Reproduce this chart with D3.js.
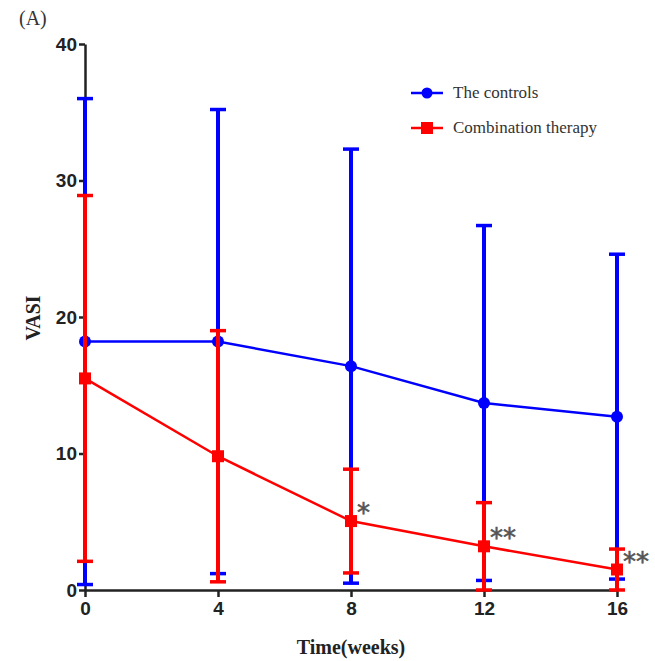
<!DOCTYPE html>
<html>
<head>
<meta charset="utf-8">
<script src="https://cdn.jsdelivr.net/npm/d3@7"></script>
<style>
  body { margin: 0; background: #fff; }
</style>
</head>
<body>
<div id="canvas"></div>
<script>
// Data
var weeks = [0, 4, 8, 12, 16];
var controlsMean = [18.2, 18.2, 16.4, 13.7, 12.7];
var controlsSD = [17.8, 17.0, 15.9, 13.0, 11.9];
var comboMean = [15.5, 9.8, 5.05, 3.2, 1.5];
var comboSD = [13.4, 9.2, 3.8, 3.2, 1.5];
var yTicks = [0, 10, 20, 30, 40];
var stars = ["", "", "*", "**", "**"];
var seriesNames = ["The controls", "Combination therapy"];

var w = 655, h = 661;

var svg = d3.select("#canvas")
    .append("svg")
    .attr("width", w)
    .attr("height", h);

var x_scale = d3.scaleLinear().domain([0, 16]).range([85, 617]);
var y_scale = d3.scaleLinear().domain([0, 40]).range([590, 44]);

// panel label
svg.append("text")
    .attr("x", 19).attr("y", 25)
    .style("font-family", "Liberation Serif, serif")
    .style("font-size", "20px")
    .style("fill", "#333")
    .text("(A)");

// axes (drawn first so the error bars sit on top)
var xAxis = svg.append("g")
    .attr("transform", "translate(0,590)")
    .call(d3.axisBottom(x_scale).tickValues(weeks).tickSize(7).tickSizeOuter(0));
var yAxis = svg.append("g")
    .attr("transform", "translate(85,0)")
    .call(d3.axisLeft(y_scale).tickValues(yTicks).tickSize(6).tickSizeOuter(0));

[xAxis, yAxis].forEach(a => {
    a.select(".domain").attr("stroke", "#222").attr("stroke-width", 2.5);
    a.selectAll(".tick line").attr("stroke", "#222").attr("stroke-width", 2.5);
    a.selectAll(".tick text")
        .style("font-family", "Liberation Sans, Arial, sans-serif")
        .style("font-weight", "bold")
        .style("font-size", "19px")
        .style("fill", "#222");
});
xAxis.selectAll(".tick text").attr("dy", "0.71em").attr("y", 12);
yAxis.selectAll(".tick text").attr("x", -8);

function drawSeries(means, sds, color, marker) {
    var g = svg.append("g");
    var rows = weeks.map((wk, i) => ({
        wk: wk,
        m: means[i],
        hi: means[i] + sds[i],
        lo: Math.max(0, means[i] - sds[i])
    }));

    // error bars
    g.selectAll(".bar").data(rows).join("line")
        .attr("x1", d => x_scale(d.wk)).attr("x2", d => x_scale(d.wk))
        .attr("y1", d => y_scale(d.hi)).attr("y2", d => y_scale(d.lo))
        .attr("stroke", color).attr("stroke-width", 4);
    ["hi", "lo"].forEach(k => {
        g.selectAll(".cap-" + k).data(rows).join("line")
            .attr("x1", d => x_scale(d.wk) - 8).attr("x2", d => x_scale(d.wk) + 8)
            .attr("y1", d => y_scale(d[k])).attr("y2", d => y_scale(d[k]))
            .attr("stroke", color).attr("stroke-width", 3.5);
    });

    // mean line
    g.append("path")
        .datum(rows)
        .attr("fill", "none")
        .attr("stroke", color)
        .attr("stroke-width", 2.5)
        .attr("d", d3.line().x(d => x_scale(d.wk)).y(d => y_scale(d.m)));

    // markers
    if (marker === "circle") {
        g.selectAll("circle").data(rows).join("circle")
            .attr("cx", d => x_scale(d.wk)).attr("cy", d => y_scale(d.m))
            .attr("r", 6).attr("fill", color);
    } else {
        g.selectAll("rect.mk").data(rows).join("rect")
            .attr("x", d => x_scale(d.wk) - 6).attr("y", d => y_scale(d.m) - 6)
            .attr("width", 12).attr("height", 12).attr("fill", color);
    }
    return rows;
}

drawSeries(controlsMean, controlsSD, "#0000ff", "circle");
var comboRows = drawSeries(comboMean, comboSD, "#ff0000", "square");

// significance marks
svg.selectAll(".star").data(comboRows).join("text")
    .attr("x", d => x_scale(d.wk) + 6)
    .attr("y", d => y_scale(d.m) + 1)
    .style("font-family", "DejaVu Sans, sans-serif")
    .style("font-size", "26px")
    .style("fill", "#555")
    .style("stroke", "#555")
    .style("stroke-width", 0.6)
    .text((d, i) => stars[i]);

// axis titles
svg.append("text")
    .attr("x", 351).attr("y", 654)
    .attr("text-anchor", "middle")
    .style("font-family", "Liberation Serif, serif")
    .style("font-weight", "bold")
    .style("font-size", "20px")
    .style("fill", "#222")
    .text("Time(weeks)");

svg.append("text")
    .attr("transform", "translate(40,318) rotate(-90)")
    .attr("text-anchor", "middle")
    .style("font-family", "Liberation Serif, serif")
    .style("font-weight", "bold")
    .style("font-size", "20px")
    .style("fill", "#222")
    .text("VASI");

// legend
var legend = svg.append("g").attr("transform", "translate(411,93)");
seriesNames.forEach((name, i) => {
    var color = i === 0 ? "#0000ff" : "#ff0000";
    var row = legend.append("g").attr("transform", `translate(0,${i * 35})`);
    row.append("line").attr("x1", 0).attr("x2", 32).attr("y1", 0).attr("y2", 0)
        .attr("stroke", color).attr("stroke-width", 2.5);
    if (i === 0) {
        row.append("circle").attr("cx", 16).attr("cy", 0).attr("r", 5.5).attr("fill", color);
    } else {
        row.append("rect").attr("x", 10).attr("y", -6).attr("width", 12).attr("height", 12).attr("fill", color);
    }
    row.append("text")
        .attr("x", 42).attr("y", 5)
        .style("font-family", "Liberation Serif, serif")
        .style("font-size", "17px")
        .style("fill", "#333")
        .text(name);
});
</script>
</body>
</html>
